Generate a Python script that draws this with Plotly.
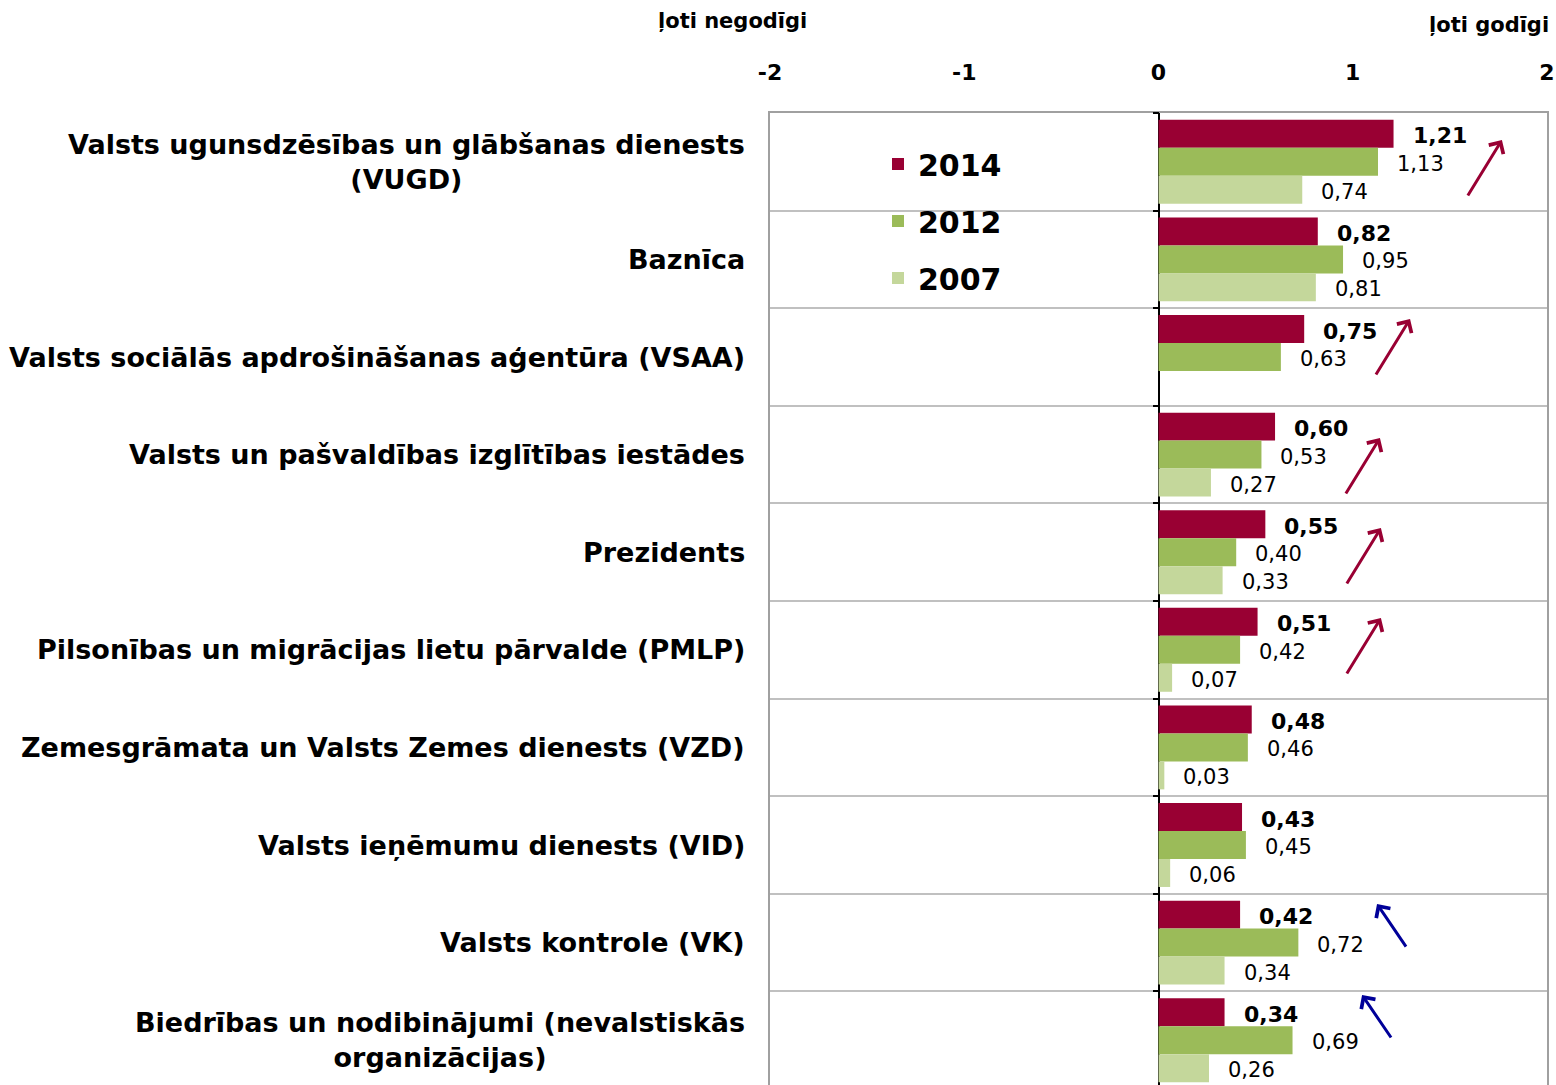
import plotly.graph_objects as go

# ---------------- data ----------------
categories = [
    "Valsts ugunsdzēsības un glābšanas dienests<br>(VUGD)",
    "Baznīca",
    "Valsts sociālās apdrošināšanas aģentūra (VSAA)",
    "Valsts un pašvaldības izglītības iestādes",
    "Prezidents",
    "Pilsonības un migrācijas lietu pārvalde (PMLP)",
    "Zemesgrāmata un Valsts Zemes dienests (VZD)",
    "Valsts ieņēmumu dienests (VID)",
    "Valsts kontrole (VK)",
    "Biedrības un nodibinājumi (nevalstiskās<br>organizācijas)",
]
years = ["2014", "2012", "2007"]
v2014 = [1.21, 0.82, 0.75, 0.60, 0.55, 0.51, 0.48, 0.43, 0.42, 0.34]
v2012 = [1.13, 0.95, 0.63, 0.53, 0.40, 0.42, 0.46, 0.45, 0.72, 0.69]
v2007 = [0.74, 0.81, None, 0.27, 0.33, 0.07, 0.03, 0.06, 0.34, 0.26]
x_tick_vals = [-2, -1, 0, 1, 2]
x_tick_text = ["-2", "-1", "0", "1", "2"]
left_title = "ļoti negodīgi"
right_title = "ļoti godīgi"
# trend arrows (decoration): (row, head x, head y offset from row centre)
arrows_up = [(0, 1.768, -0.223), (2, 1.295, -0.389), (3, 1.140, -0.170),
             (4, 1.145, -0.248), (5, 1.145, -0.326)]
arrows_down = [(8, 1.125, -0.395), (9, 1.048, -0.463)]

# ---------------- style ----------------
colors = ["#990033", "#9BBB59", "#C4D79B"]
W, H = 1556, 1085
PLOT_L, PLOT_R, PLOT_T = 770, 1547, 113
ML, MR, MT, MB = PLOT_L, W - PLOT_R, PLOT_T, 0
ROW_PX = 97.6
n = len(categories)
plot_h = H - MT - MB
y_bottom = -0.5 + plot_h / ROW_PX
BARGAP = 0.14
bw = (1 - BARGAP) / 3
FONT = "DejaVu Sans"


def px_to_paper_x(px):
    return (px - PLOT_L) / (PLOT_R - PLOT_L)


def px_to_paper_y(py):
    return (H - MB - py) / plot_h


def fmt(v):
    return f"{v:.2f}".replace(".", ",")


rows = list(range(n))
series = [v2014, v2012, v2007]

fig = go.Figure()
for i, (yr, vals) in enumerate(zip(years, series)):
    fig.add_trace(go.Bar(
        y=rows, x=vals, orientation="h", name=yr,
        marker=dict(color=colors[i], line=dict(width=0)),
        legendgroup=yr, hoverinfo="x+name",
    ))

# invisible trace carrying the axis at x=0 (tick marks at row boundaries)
fig.add_trace(go.Scatter(x=[None], y=[None], yaxis="y2", showlegend=False,
                         hoverinfo="skip", mode="markers"))

annotations = []
# value labels
for i, vals in enumerate(series):
    off = (i - 1) * bw
    for r, v in enumerate(vals):
        if v is None:
            continue
        annotations.append(dict(
            x=v, y=r + off, xref="x", yref="y", text=fmt(v), showarrow=False,
            xanchor="left", yanchor="middle", xshift=17, yshift=-2,
            font=dict(family=FONT, size=22 if i == 0 else 21,
                      weight="bold" if i == 0 else "normal", color="black"),
        ))

# category labels
for r, c in enumerate(categories):
    annotations.append(dict(
        x=px_to_paper_x(747), y=r, xref="paper", yref="y", text=c,
        showarrow=False, xanchor="right", yanchor="middle", align="center",
        font=dict(family=FONT, size=27, weight="bold", color="black"),
    ))

# trend arrows
for (r, hx, hy) in arrows_up:
    annotations.append(dict(
        x=hx, y=r + hy, xref="x", yref="y", ax=-35, ay=57, text="",
        showarrow=True, arrowhead=4, arrowsize=1.1, arrowwidth=3,
        arrowcolor="#990033",
    ))
for (r, hx, hy) in arrows_down:
    annotations.append(dict(
        x=hx, y=r + hy, xref="x", yref="y", ax=30, ay=44, text="",
        showarrow=True, arrowhead=4, arrowsize=1.1, arrowwidth=3,
        arrowcolor="#000099",
    ))

# top titles
annotations.append(dict(
    x=px_to_paper_x(656), y=px_to_paper_y(21), xref="paper", yref="paper",
    text=left_title, showarrow=False, xanchor="left", yanchor="middle",
    font=dict(family=FONT, size=21, weight="bold", color="black")))
annotations.append(dict(
    x=px_to_paper_x(1551), y=px_to_paper_y(25), xref="paper", yref="paper",
    text=right_title, showarrow=False, xanchor="right", yanchor="middle",
    font=dict(family=FONT, size=21, weight="bold", color="black")))

boundaries = [r + 0.5 for r in range(-1, n)]

fig.update_layout(
    width=W, height=H,
    margin=dict(l=ML, r=MR, t=MT, b=MB, pad=0),
    paper_bgcolor="white", plot_bgcolor="white",
    barmode="group", bargap=BARGAP, bargroupgap=0,
    font=dict(family=FONT, color="black"),
    showlegend=True,
    legend=dict(
        x=px_to_paper_x(878), xanchor="left",
        y=px_to_paper_y(138), yanchor="top",
        orientation="v", traceorder="grouped", tracegroupgap=15,
        bgcolor="rgba(0,0,0,0)",
        font=dict(family=FONT, size=30, weight="bold", color="black"),
    ),
    xaxis=dict(
        range=[-2, 2], side="top", tickmode="array",
        tickvals=x_tick_vals, ticktext=x_tick_text,
        tickfont=dict(family=FONT, size=22, weight="bold", color="black"),
        ticks="", ticklabelstandoff=22,
        showgrid=False, showline=True, linecolor="#A0A0A0", linewidth=2,
        mirror=False, zeroline=True, zerolinecolor="black", zerolinewidth=2,
        fixedrange=True,
    ),
    yaxis=dict(
        range=[y_bottom, -0.5], tickmode="array", tickvals=[],
        showticklabels=False, showgrid=False,
        showline=True, linecolor="#A0A0A0", linewidth=2, mirror=True,
        zeroline=False,
        minor=dict(tickmode="array", tickvals=boundaries[1:], showgrid=True,
                   gridcolor="#C0C0C0", gridwidth=2, ticks=""),
        fixedrange=True,
    ),
    yaxis2=dict(
        overlaying="y", anchor="free", position=0.5, side="left",
        range=[y_bottom, -0.5], tickmode="array", tickvals=boundaries,
        ticks="outside", ticklen=6, tickwidth=2, tickcolor="black",
        showticklabels=False, showgrid=False, showline=False, zeroline=False,
        fixedrange=True,
    ),
    annotations=annotations,
)

# remove the default page margin so the figure fills the 1556x1085 window
fig.write_html(
    "out.html",
    config={"displayModeBar": False},
    post_script="document.body.style.margin='0';"
                "document.documentElement.style.overflow='hidden';"
                "document.body.style.overflow='hidden';",
)
